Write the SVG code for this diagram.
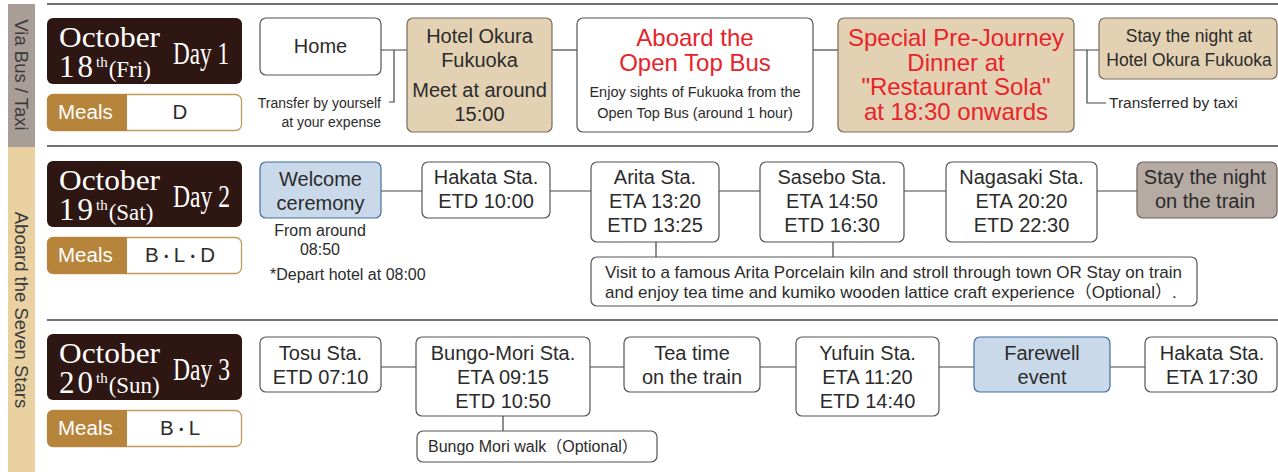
<svg xmlns="http://www.w3.org/2000/svg" width="1278" height="472" viewBox="0 0 1278 472">
<style>
text{font-family:"Liberation Sans",Arial,"Noto Sans CJK JP",sans-serif;fill:#2b2b2b}
.serif{font-family:"Liberation Serif","Times New Roman",serif;fill:#fff}
.mo{font-size:29px}
.dn{font-size:31px;letter-spacing:3px}
.th{font-size:15px}
.wd{font-size:23px}
.n{font-size:20px;text-anchor:middle}
.w{fill:#fff;stroke:#555;stroke-width:1.2}
.tan{fill:#e3d1b3;stroke:#7a6b5c;stroke-width:1.2}
.blue{fill:#c9d9ea;stroke:#41709f;stroke-width:1.2}
.gray{fill:#b5aaa4;stroke:#6e625a;stroke-width:1.2}
.red{fill:#e8232a;font-size:24px;text-anchor:middle}
.dark{fill:#2e1713}
.sep{stroke:#444;stroke-width:1.5;fill:none}
.con path{stroke:#444;stroke-width:1.2;fill:none}
.ml{fill:#fff;font-size:20.5px}
.mv{font-size:20.5px;text-anchor:middle}
.dot{font-size:15px}
.side{font-size:18.5px;text-anchor:middle;fill:#3a3a3a}
.sm{font-size:14px}
</style>
<defs>
<g id="mealsbox">
<rect x="47.5" y="0.5" width="194" height="36" rx="6" fill="#fff" stroke="#c49a5a" stroke-width="1.3"/>
<path d="M127,0 H53 A6,6 0 0 0 47,6 V31 A6,6 0 0 0 53,37 H127 Z" fill="#b7843c"/>
</g>
</defs>
<!-- sidebar -->
<g id="sidebar">
<rect x="8" y="4" width="27" height="143" fill="#a99d98"/>
<rect x="8" y="147" width="27" height="325" fill="#e9d1a2"/>
<text class="side" transform="translate(14.5,75) rotate(90)">Via Bus / Taxi</text>
<text class="side" transform="translate(14.5,310) rotate(90)">Aboard the Seven Stars</text>
</g>
<!-- separators -->
<g id="separators">
<path class="sep" d="M47,4 H1278 M47,146 H1278 M47,320 H1278"/>
</g>
<!-- day headers -->
<g id="day1-header">
<rect class="dark" x="47" y="18" width="195" height="66" rx="6"/>
<text class="serif mo" x="59" y="47" textLength="101" lengthAdjust="spacingAndGlyphs">October</text>
<text class="serif" x="59" y="77"><tspan class="dn">18</tspan><tspan class="th" dy="-10">th</tspan><tspan class="wd" dy="10" dx="1">(Fri)</tspan></text>
<text class="serif" x="173" y="64" font-size="32" textLength="56" lengthAdjust="spacingAndGlyphs">Day 1</text>
<use href="#mealsbox" y="94"/>
<text class="ml" x="58" y="119">Meals</text>
<text class="mv" x="180" y="119">D</text>
</g>
<g id="day2-header">
<rect class="dark" x="47" y="161" width="195" height="66" rx="6"/>
<text class="serif mo" x="59" y="190" textLength="101" lengthAdjust="spacingAndGlyphs">October</text>
<text class="serif" x="59" y="220"><tspan class="dn">19</tspan><tspan class="th" dy="-10">th</tspan><tspan class="wd" dy="10" dx="1">(Sat)</tspan></text>
<text class="serif" x="173" y="207" font-size="32" textLength="57" lengthAdjust="spacingAndGlyphs">Day 2</text>
<use href="#mealsbox" y="237"/>
<text class="ml" x="58" y="262">Meals</text>
<text class="mv" x="180" y="262">B<tspan class="dot">・</tspan>L<tspan class="dot">・</tspan>D</text>
</g>
<g id="day3-header">
<rect class="dark" x="47" y="334" width="195" height="66" rx="6"/>
<text class="serif mo" x="59" y="363" textLength="101" lengthAdjust="spacingAndGlyphs">October</text>
<text class="serif" x="59" y="393"><tspan class="dn" letter-spacing="4">20</tspan><tspan class="th" dy="-10">th</tspan><tspan class="wd" dy="10" dx="1">(Sun)</tspan></text>
<text class="serif" x="173" y="380" font-size="32" textLength="57" lengthAdjust="spacingAndGlyphs">Day 3</text>
<use href="#mealsbox" y="410"/>
<text class="ml" x="58" y="435">Meals</text>
<text class="mv" x="180" y="435">B<tspan class="dot">・</tspan>L</text>
</g>
<!-- connectors -->
<g class="con" id="connectors">
<path d="M381,50 H407 M394,50 V102 H389"/>
<path d="M552,50 H577"/>
<path d="M813,50 H838"/>
<path d="M1074,50 H1099 M1087,50 V103 H1106"/>
<path d="M381,191 H422"/>
<path d="M550,191 H591"/>
<path d="M719,191 H760"/>
<path d="M904,191 H946"/>
<path d="M1097,191 H1137"/>
<path d="M656,242 V257 M833,242 V257"/>
<path d="M381,367 H416"/>
<path d="M590,367 H624"/>
<path d="M760,367 H796"/>
<path d="M939,367 H974"/>
<path d="M1110,367 H1145"/>
<path d="M503,416 V431"/>
</g>
<!-- Day 1 nodes -->
<g id="home">
<rect class="w" x="260" y="18" width="121" height="57" rx="6"/>
<text class="n" x="320.5" y="53">Home</text>
</g>
<g id="transfer-note">
<text class="sm" x="381" y="108" text-anchor="end">Transfer by yourself</text>
<text class="sm" x="381" y="127" text-anchor="end">at your expense</text>
</g>
<g id="hotel-okura">
<rect class="tan" x="407" y="18" width="145" height="114" rx="6"/>
<text class="n" x="479.5" y="43">Hotel Okura</text>
<text class="n" x="479.5" y="67">Fukuoka</text>
<text class="n" x="479.5" y="97">Meet at around</text>
<text class="n" x="479.5" y="121">15:00</text>
</g>
<g id="open-top-bus">
<rect class="w" x="577" y="18" width="236" height="114" rx="6"/>
<text class="red" x="695" y="46">Aboard the</text>
<text class="red" x="695" y="71">Open Top Bus</text>
<text x="695" y="97" font-size="14.5" text-anchor="middle">Enjoy sights of Fukuoka from the</text>
<text x="695" y="118" font-size="14.5" text-anchor="middle">Open Top Bus (around 1 hour)</text>
</g>
<g id="special-dinner">
<rect class="tan" x="838" y="18" width="236" height="114" rx="6"/>
<text class="red" x="956" y="46">Special Pre-Journey</text>
<text class="red" x="956" y="71">Dinner at</text>
<text class="red" x="956" y="95">"Restaurant Sola"</text>
<text class="red" x="956" y="120">at 18:30 onwards</text>
</g>
<g id="taxi-note">
<text x="1109" y="108" font-size="15.5">Transferred by taxi</text>
</g>
<g id="stay-hotel">
<rect class="tan" x="1099" y="18" width="178" height="61" rx="6"/>
<text x="1189" y="42" font-size="17.5" text-anchor="middle">Stay the night at</text>
<text x="1189" y="66" font-size="17.5" text-anchor="middle">Hotel Okura Fukuoka</text>
</g>
<!-- Day 2 nodes -->
<g id="welcome">
<rect class="blue" x="260" y="162" width="121" height="56" rx="6"/>
<text class="n" x="320.5" y="186">Welcome</text>
<text class="n" x="320.5" y="210">ceremony</text>
</g>
<g id="welcome-note">
<text x="320" y="236" font-size="16" text-anchor="middle">From around</text>
<text x="320" y="255" font-size="16" text-anchor="middle">08:50</text>
<text x="270" y="280" font-size="16">*Depart hotel at 08:00</text>
</g>
<g id="hakata-d2">
<rect class="w" x="422" y="162" width="128" height="56" rx="6"/>
<text class="n" x="486" y="184">Hakata Sta.</text>
<text class="n" x="486" y="208">ETD 10:00</text>
</g>
<g id="arita">
<rect class="w" x="591" y="162" width="128" height="80" rx="6"/>
<text class="n" x="655" y="184">Arita Sta.</text>
<text class="n" x="655" y="208">ETA 13:20</text>
<text class="n" x="655" y="232">ETD 13:25</text>
</g>
<g id="sasebo">
<rect class="w" x="760" y="162" width="144" height="80" rx="6"/>
<text class="n" x="832" y="184">Sasebo Sta.</text>
<text class="n" x="832" y="208">ETA 14:50</text>
<text class="n" x="832" y="232">ETD 16:30</text>
</g>
<g id="nagasaki">
<rect class="w" x="946" y="162" width="151" height="80" rx="6"/>
<text class="n" x="1021.5" y="184">Nagasaki Sta.</text>
<text class="n" x="1021.5" y="208">ETA 20:20</text>
<text class="n" x="1021.5" y="232">ETD 22:30</text>
</g>
<g id="stay-train">
<rect class="gray" x="1137" y="162" width="140" height="56" rx="6"/>
<text class="n" x="1205" y="184">Stay the night</text>
<text class="n" x="1205" y="208">on the train</text>
</g>
<g id="arita-visit">
<rect class="w" x="591" y="257" width="606" height="49" rx="6"/>
<text x="605" y="278" font-size="17">Visit to a famous Arita Porcelain kiln and stroll through town OR Stay on train</text>
<text x="605" y="298" font-size="17">and enjoy tea time and kumiko wooden lattice craft experience（Optional）.</text>
</g>
<!-- Day 3 nodes -->
<g id="tosu">
<rect class="w" x="260" y="337" width="121" height="55" rx="6"/>
<text class="n" x="320.5" y="360">Tosu Sta.</text>
<text class="n" x="320.5" y="384">ETD 07:10</text>
</g>
<g id="bungo-mori">
<rect class="w" x="416" y="337" width="174" height="79" rx="6"/>
<text class="n" x="503" y="360">Bungo-Mori Sta.</text>
<text class="n" x="503" y="384">ETA 09:15</text>
<text class="n" x="503" y="408">ETD 10:50</text>
</g>
<g id="tea-time">
<rect class="w" x="624" y="337" width="136" height="55" rx="6"/>
<text class="n" x="692" y="360">Tea time</text>
<text class="n" x="692" y="384">on the train</text>
</g>
<g id="yufuin">
<rect class="w" x="796" y="337" width="143" height="79" rx="6"/>
<text class="n" x="867.5" y="360">Yufuin Sta.</text>
<text class="n" x="867.5" y="384">ETA 11:20</text>
<text class="n" x="867.5" y="408">ETD 14:40</text>
</g>
<g id="farewell">
<rect class="blue" x="974" y="337" width="136" height="55" rx="6"/>
<text class="n" x="1042" y="360">Farewell</text>
<text class="n" x="1042" y="384">event</text>
</g>
<g id="hakata-d3">
<rect class="w" x="1145" y="337" width="132" height="55" rx="6"/>
<text class="n" x="1212" y="360">Hakata Sta.</text>
<text class="n" x="1212" y="384">ETA 17:30</text>
</g>
<g id="bungo-walk">
<rect class="w" x="417" y="431" width="240" height="31" rx="6"/>
<text x="428" y="452" font-size="16">Bungo Mori walk（Optional）</text>
</g>
</svg>
